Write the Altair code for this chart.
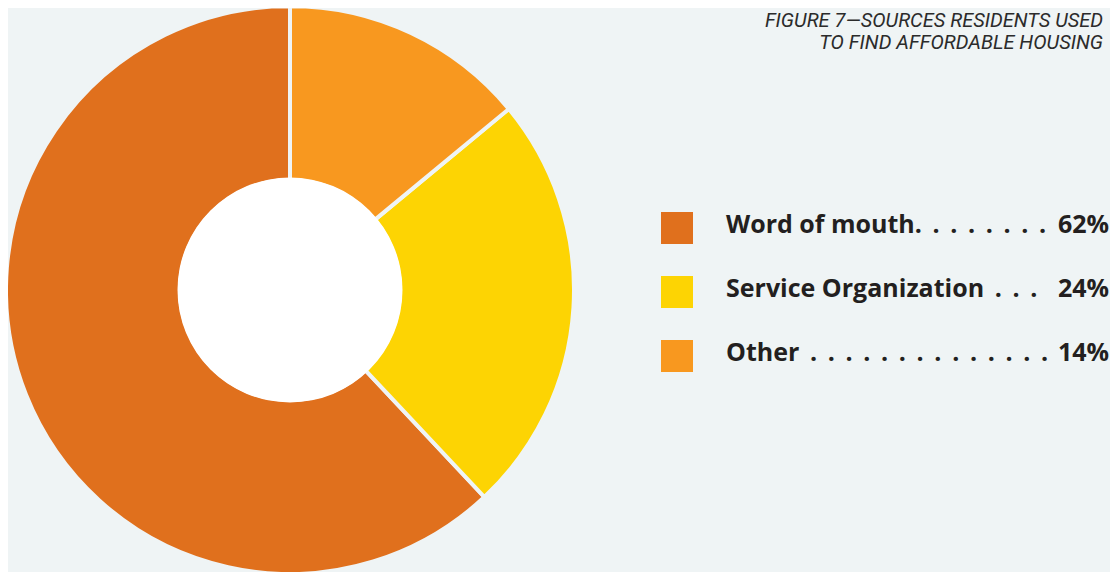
import altair as alt
import pandas as pd

# ---- data ----
categories = ["Word of mouth", "Service Organization", "Other"]
values = [62, 24, 14]
stack_order = [3, 2, 1]          # "Other" starts at 12 o'clock, then clockwise
colors = ["#E0701D", "#FDD403", "#F8981F"]
label_text = ["Word of mouth.", "Service Organization", "Other"]
leader_dots = [7, 3, 14]
title_lines = ["FIGURE 7—SOURCES RESIDENTS USED", "TO FIND AFFORDABLE HOUSING"]

BG = "#EFF4F5"
W, H = 1102, 564
CX, CY = 282, 282
R_OUT, R_IN = 282, 112
FONT = "Open Sans"
DOT = "\u2009 ."

df = pd.DataFrame({
    "category": categories,
    "value": values,
    "order": stack_order,
    "label": [t + DOT * n for t, n in zip(label_text, leader_dots)],
    "pct": [f"{v}%" for v in values],
})
title_df = pd.DataFrame({"line": title_lines, "row": [0, 1]})

color_scale = alt.Scale(domain=categories, range=colors)
row_scale = alt.Scale(type="point", domain=categories, range=[220, 348], padding=0)

base = alt.Chart(df)

arcs = base.mark_arc(outerRadius=R_OUT + 2, innerRadius=R_IN - 2, stroke=BG, strokeWidth=4).encode(
    theta=alt.Theta("value:Q", stack=True),
    order=alt.Order("order:Q"),
    color=alt.Color("category:N", scale=color_scale, legend=None),
    x=alt.value(CX),
    y=alt.value(CY),
)

hole = base.transform_filter(alt.datum.order == 1).mark_circle(
    size=(2 * R_IN + 1) ** 2, color="white", opacity=1
).encode(x=alt.value(CX), y=alt.value(CY))

squares = base.mark_square(size=1024, opacity=1).encode(
    x=alt.value(669),
    y=alt.Y("category:N", scale=row_scale, axis=None),
    color=alt.Color("category:N", scale=color_scale, legend=None),
)

labels = base.mark_text(
    align="left", baseline="alphabetic", dy=5, font=FONT, fontWeight="bold",
    fontSize=25, color="#231F20"
).encode(
    x=alt.value(718),
    y=alt.Y("category:N", scale=row_scale, axis=None),
    text="label:N",
)

pcts = base.mark_text(
    align="right", baseline="alphabetic", dy=5, font=FONT, fontWeight="bold",
    fontSize=25, color="#231F20"
).encode(
    x=alt.value(1101),
    y=alt.Y("category:N", scale=row_scale, axis=None),
    text="pct:N",
)

title = alt.Chart(title_df).mark_text(
    align="right", baseline="alphabetic", font="Roboto", fontStyle="italic",
    fontSize=20, color="#2B2B2B"
).encode(
    x=alt.value(1095),
    y=alt.Y("row:O", scale=alt.Scale(type="point", domain=[0, 1], range=[19, 41], padding=0), axis=None),
    text="line:N",
)

chart = alt.layer(arcs, hole, squares, labels, pcts, title).resolve_scale(
    y="independent"
).properties(
    width=W, height=H, background=BG, padding=0,
    autosize=alt.AutoSizeParams(type="none"),
).configure_view(stroke=None)

chart.save("out.html", embed_options={"renderer": "svg", "actions": False})
